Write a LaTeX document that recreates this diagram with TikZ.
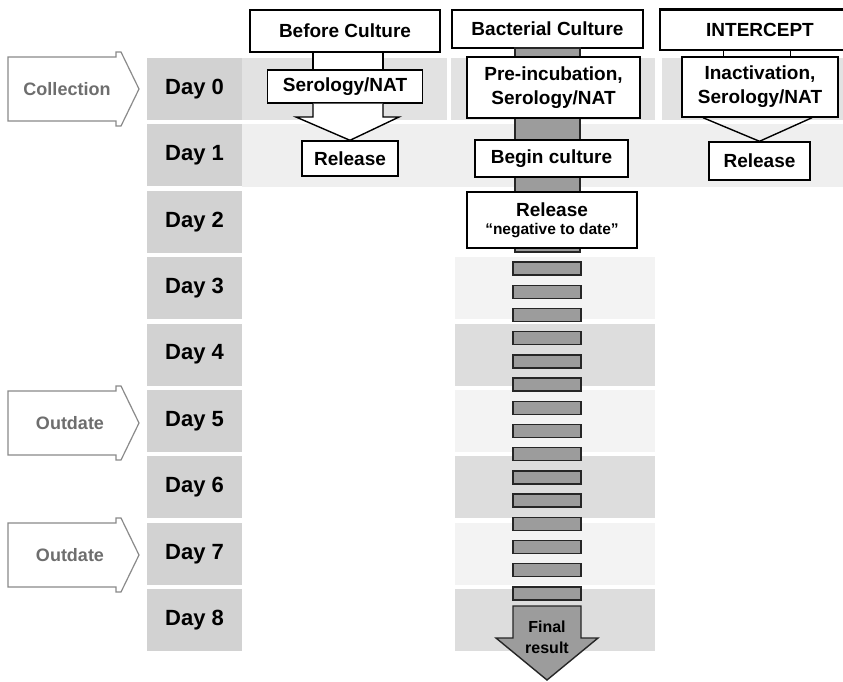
\documentclass[tikz,border=0pt]{standalone}
\usepackage{fontspec}
\setmainfont{Liberation Sans}
\usetikzlibrary{calc}
\definecolor{dayfill}{HTML}{D2D2D2}
\definecolor{bandA}{HTML}{E2E2E2}
\definecolor{bandB}{HTML}{EFEFEF}
\definecolor{bandL}{HTML}{F3F3F3}
\definecolor{bandD}{HTML}{DDDDDD}
\definecolor{shaftgray}{HTML}{9C9C9C}
\definecolor{sidegray}{HTML}{8A8A8A}
\begin{document}
\begin{tikzpicture}[x=1pt,y=-1pt,
  box/.style={draw=black, line width=1.4pt, fill=white, inner sep=0pt, align=center,
              font=\bfseries\fontsize{19}{24}\selectfont},
  daybox/.style={fill=dayfill, inner sep=0pt, minimum width=95pt, minimum height=62pt,
                 font=\bfseries\fontsize{22}{24}\selectfont},
  ln/.style={line width=1.4pt, line join=miter},
  barst/.style={draw=black!85, line width=1.4pt, fill=shaftgray},
  sidearrow/.style={draw=sidegray, line width=1.2pt, fill=white},
  sidetext/.style={text=sidegray!80!black, font=\bfseries\fontsize{18}{20}\selectfont}
]
\clip (0,0) rectangle (843,681);
\fill[white] (0,0) rectangle (843,681);

% row bands
\fill[bandA] (242,58) rectangle (447,120);
\fill[bandA] (451,58) rectangle (655,120);
\fill[bandA] (662,58) rectangle (843,120);
\fill[bandB] (242,124) rectangle (843,187);
\foreach \i/\c in {3/bandL,4/bandD,5/bandL,6/bandD,7/bandL,8/bandD}{
  \fill[\c] (455,{89+66.4*\i-31}) rectangle (655,{89+66.4*\i+31});
}

% day labels
\foreach \i in {0,...,8}{
  \node[daybox] (d\i) at (194.5,{89+66.4*\i}) {Day \i};
}

% side arrows
\foreach \yc/\t/\n/\tx in {89/Collection/coll/67, 423/Outdate/outa/70, 555/Outdate/outb/70}{
  \draw[sidearrow] (8,\yc-32) -- (116,\yc-32) -- (116,\yc-37) -- (121,\yc-37) -- (139,\yc)
     -- (121,\yc+37) -- (116,\yc+37) -- (116,\yc+32) -- (8,\yc+32) -- cycle;
  \node[sidetext] (\n) at (\tx,\yc) {\t};
}

% headers
\node[box, minimum width=190pt, minimum height=42pt] (hbc) at (345,31) {Before Culture};
\node[box, minimum width=191pt, minimum height=38pt] (hbac) at (547.5,29) {Bacterial Culture};
\node[box, minimum width=200pt, minimum height=40pt] (hint) at (760,30) {INTERCEPT};
\draw[line width=2pt] (hint.north west) -- (hint.north east);

% before culture column
\fill[white] (hbc.south -| 313,0) rectangle (383,70);
\draw[ln] (hbc.south -| 313,0) -- (313,70);
\draw[ln] (hbc.south -| 383,0) -- (383,70);
\node[box, minimum width=155pt, minimum height=33pt] (ser) at (345,86.5) {Serology/NAT};
\node[box, minimum width=96pt, minimum height=35pt] (relA) at (350,158.5) {Release};
\fill[white] (ser.south -| 313,0) -- (313,117) -- (296,117) -- (relA.north) -- (399,117) -- (383,117) -- (ser.south -| 383,0) -- cycle;
\draw[ln] (ser.south -| 313,0) -- (313,117) -- (296,117) -- (relA.north) -- (399,117) -- (383,117) -- (ser.south -| 383,0);

% bacterial culture column
\draw[barst] (515,48) rectangle (580,252);
\node[box, minimum width=173pt, minimum height=61pt] (pre) at (553.5,87.5) {Pre-incubation,\\Serology/NAT};
\node[box, minimum width=153pt, minimum height=37pt] (beg) at (551.5,158.5) {Begin culture};
\node[box, minimum width=170pt, minimum height=56pt] (relB) at (552,220)
  {Release\\[-6pt]{\fontsize{15.5}{17}\selectfont “negative to date”}};
\foreach \i in {0,...,14}{
  \draw[barst] (513,{262+23.2*\i}) rectangle +(68,13);
}
\draw[barst] (513,606) -- (581,606) -- (581,638) -- (598,638) -- (547,680) -- (496,638) -- (513,638) -- cycle;
\node[align=center, inner sep=0pt, text=black, font=\bfseries\fontsize{16}{21}\selectfont] (fin) at (547,637) {Final\\result};

% intercept column
\node[box, minimum width=156pt, minimum height=60pt] (inact) at (760,87) {Inactivation,\\Serology/NAT};
\node[box, minimum width=101pt, minimum height=38pt] (relC) at (759.5,161) {Release};
\draw[line width=1pt] (hint.south -| 723,0) -- (inact.north -| 723,0);
\draw[line width=1pt] (hint.south -| 790,0) -- (inact.north -| 790,0);
\draw[ln] (inact.south -| 703,0) -- (relC.north) -- (inact.south -| 812,0);
\end{tikzpicture}
\end{document}
